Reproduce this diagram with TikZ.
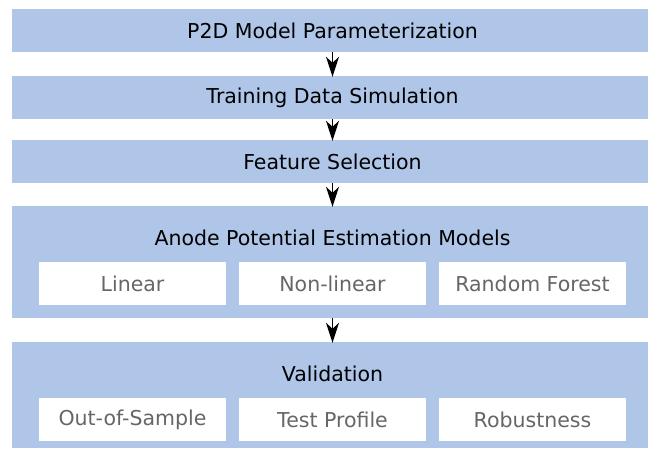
\documentclass[tikz,border=0pt]{standalone}
\usepackage{fontspec}
\setmainfont{DejaVu Sans}
\usetikzlibrary{arrows.meta}
\definecolor{boxblue}{HTML}{AFC6E8}
\definecolor{subgray}{HTML}{666666}
\tikzset{
  outerbox/.style={fill=boxblue, draw=none, minimum width=641pt, inner sep=0pt},
  innerbox/.style={fill=white, draw=none, minimum width=187pt, minimum height=43pt, inner sep=0pt, text=subgray, font=\fontsize{20.5}{24}\selectfont},
  titletext/.style={font=\fontsize{20.5}{24}\selectfont, text=black, inner sep=0pt},
  flow/.style={-{Stealth[length=20pt,width=13pt,inset=6pt]}, line width=1.6pt, black, shorten >=-1pt},
}
\begin{document}
\begin{tikzpicture}[x=1pt,y=-1pt]
\useasboundingbox (0,0) rectangle (648,449);
\node[outerbox, minimum height=43pt, titletext] (b1) at (332.5,30.5) {P2D Model Parameterization};
\node[outerbox, minimum height=43pt, titletext] (b2) at (332.5,97.5) {Training Data Simulation};
\node[outerbox, minimum height=43pt, titletext] (b3) at (332.5,161.5) {Feature Selection};
\node[outerbox, minimum height=112pt] (b4) at (332.5,262) {};
\node[outerbox, minimum height=106pt] (b5) at (332.5,395) {};
\node[titletext] (t4) at (332.5,238) {Anode Potential Estimation Models};
\node[titletext] (t5) at (332.5,374) {Validation};
\node[innerbox] (m1) at (132.5,283.5) {Linear};
\node[innerbox] (m2) at (332.5,283.5) {Non-linear};
\node[innerbox] (m3) at (532.5,283.5) {Random Forest};
\node[innerbox] (v1) at (132.5,419.5) {Out-of-Sample};
\node[innerbox] (v2) at (332.5,419.5) {Test Profile};
\node[innerbox] (v3) at (532.5,419.5) {Robustness};
\draw[flow] (b1.south) -- (b2.north);
\draw[flow] (b2.south) -- (b3.north);
\draw[flow] (b3.south) -- (b4.north);
\draw[flow] (b4.south) -- (b5.north);
\end{tikzpicture}
\end{document}
